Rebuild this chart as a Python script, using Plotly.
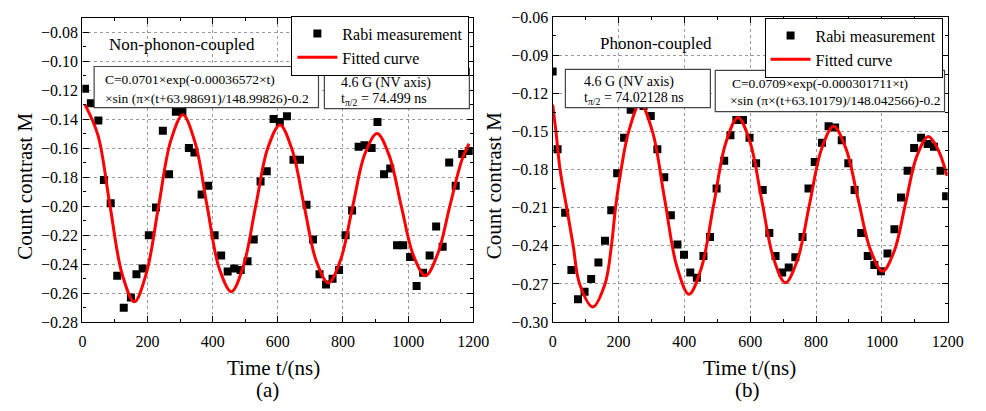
import plotly.graph_objects as go

# ---------------- data: panel (a) non-phonon-coupled ----------------
t_a = [8, 26, 49, 66, 87, 107, 127, 149, 166, 185, 204, 226, 247, 266, 287,
       307, 327, 344, 366, 386, 406, 426, 446, 466, 486, 507, 526, 547, 566, 587,
       606, 628, 648, 668, 688, 708, 728, 748, 768, 788, 808, 828, 848, 866, 888,
       906, 926, 945, 966, 985, 1006, 1026, 1046, 1066, 1086, 1106, 1126, 1146, 1166, 1186]
m_a = [-0.119, -0.129, -0.141, -0.182, -0.198, -0.248, -0.270, -0.263, -0.247, -0.243,
       -0.220, -0.201, -0.148, -0.178, -0.135, -0.135, -0.160, -0.163, -0.192, -0.186,
       -0.220, -0.234, -0.245, -0.243, -0.244, -0.238, -0.223, -0.183, -0.176, -0.140,
       -0.142, -0.138, -0.168, -0.168, -0.199, -0.223, -0.247, -0.254, -0.250, -0.244,
       -0.220, -0.203, -0.159, -0.158, -0.160, -0.142, -0.178, -0.174, -0.227, -0.227,
       -0.235, -0.255, -0.246, -0.234, -0.214, -0.228, -0.170, -0.186, -0.164, -0.162]
fit_t_a = [8, 47.7, 85, 122.2, 159.5, 196.7, 234, 271.2, 308.5, 345.7, 383, 420.2,
           457.5, 494.7, 532, 569.2, 606.5, 643.7, 681, 718.2, 755.5, 792.7, 830,
           867.2, 904.5, 941.7, 979, 1016.2, 1053.5, 1090.7, 1128, 1165.2, 1187]
fit_v_a = [-0.130, -0.151, -0.200, -0.247, -0.266, -0.246, -0.200, -0.155, -0.137,
           -0.156, -0.200, -0.243, -0.259, -0.241, -0.200, -0.160, -0.144, -0.161,
           -0.200, -0.238, -0.253, -0.237, -0.200, -0.164, -0.150, -0.165, -0.200,
           -0.234, -0.248, -0.233, -0.200, -0.168, -0.157]

# ---------------- data: panel (b) phonon-coupled ----------------
t_b = [0, 15, 38, 57, 77, 97, 117, 139, 159, 178, 196, 217, 237, 257, 276,
       298, 318, 339, 359, 379, 399, 418, 438, 458, 478, 498, 521, 540, 558, 578,
       598, 618, 638, 658, 677, 697, 717, 737, 759, 777, 796, 818, 838, 858, 878,
       898, 917, 937, 957, 977, 997, 1017, 1038, 1058, 1078, 1098, 1119, 1139, 1158, 1178, 1195]
m_b = [-0.103, -0.164, -0.214, -0.259, -0.282, -0.276, -0.266, -0.253, -0.236, -0.212,
       -0.183, -0.155, -0.133, -0.127, -0.130, -0.138, -0.164, -0.186, -0.216, -0.239,
       -0.247, -0.261, -0.265, -0.248, -0.233, -0.195, -0.173, -0.153, -0.141, -0.141,
       -0.155, -0.175, -0.196, -0.230, -0.248, -0.261, -0.257, -0.249, -0.233, -0.195,
       -0.174, -0.159, -0.146, -0.147, -0.157, -0.175, -0.196, -0.230, -0.248, -0.255,
       -0.260, -0.246, -0.227, -0.202, -0.181, -0.163, -0.155, -0.160, -0.162, -0.181, -0.201]
fit_t_b = [0, 10, 22.5, 42.6, 62.5, 82, 122, 159, 178.5, 191, 208, 231, 266, 303, 340,
           377, 414, 451, 488.5, 526, 563, 599, 635, 671, 707, 743.5, 780, 816.5, 853,
           890, 927.5, 965, 1002, 1037, 1071.5, 1106, 1141, 1170, 1198]
fit_v_b = [-0.129, -0.150, -0.180, -0.210, -0.240, -0.270, -0.288, -0.270, -0.240,
           -0.210, -0.180, -0.150, -0.128, -0.150, -0.203, -0.256, -0.278, -0.258,
           -0.2085, -0.159, -0.139, -0.158, -0.204, -0.250, -0.269, -0.251, -0.2075,
           -0.164, -0.146, -0.163, -0.203, -0.243, -0.260, -0.2445, -0.207, -0.1695,
           -0.154, -0.164, -0.185]

W, H = 986, 411
FONT = "Liberation Serif"


def px(x):
    return x / W


def py(y):
    return 1 - y / H


fig = go.Figure()
fig.add_trace(go.Scatter(x=t_a, y=m_a, mode="markers", name="Rabi measurement",
                         marker=dict(symbol="square", size=8, color="black"),
                         xaxis="x", yaxis="y", legend="legend"))
fig.add_trace(go.Scatter(x=fit_t_a, y=fit_v_a, mode="lines", name="Fitted curve",
                         line=dict(color="#ff0000", width=3, shape="spline"),
                         xaxis="x", yaxis="y", legend="legend"))
fig.add_trace(go.Scatter(x=t_b, y=m_b, mode="markers", name="Rabi measurement",
                         marker=dict(symbol="square", size=8, color="black"),
                         xaxis="x2", yaxis="y2", legend="legend2"))
fig.add_trace(go.Scatter(x=fit_t_b, y=fit_v_b, mode="lines", name="Fitted curve",
                         line=dict(color="#ff0000", width=3, shape="spline"),
                         xaxis="x2", yaxis="y2", legend="legend2"))

axis_common = dict(
    showline=True, linecolor="black", linewidth=1.3, mirror="allticks",
    ticks="inside", ticklen=6, tickwidth=1, tickcolor="black",
    showgrid=True, gridcolor="#9a9a9a", griddash="dot", gridwidth=1,
    zeroline=False, tickfont=dict(family=FONT, size=16, color="black"),
)

fig.update_layout(
    width=W, height=H, margin=dict(l=0, r=0, t=0, b=0),
    paper_bgcolor="white", plot_bgcolor="white",
    font=dict(family=FONT, color="black"),
    xaxis=dict(domain=[px(80), px(479)], range=[0, 1200], dtick=200, tick0=0, anchor="y",
               ticklabelstandoff=5,
               minor=dict(dtick=100, ticks="inside", ticklen=3, tickcolor="black", showgrid=False),
               **axis_common),
    yaxis=dict(domain=[py(327.7), py(10)], range=[-0.28, -0.07], dtick=0.02, tick0=0,
               tickformat=".2f", anchor="x",
               minor=dict(dtick=0.01, ticks="inside", ticklen=3, tickcolor="black", showgrid=False),
               **axis_common),
    xaxis2=dict(domain=[px(560), px(963.3)], range=[0, 1200], dtick=200, tick0=0, anchor="y2",
                ticklabelstandoff=5,
                minor=dict(dtick=100, ticks="inside", ticklen=3, tickcolor="black", showgrid=False),
                **axis_common),
    yaxis2=dict(domain=[py(327.7), py(9.3)], range=[-0.30, -0.06], dtick=0.03, tick0=0,
                tickformat=".2f", anchor="x2",
                minor=dict(dtick=0.015, ticks="inside", ticklen=3, tickcolor="black", showgrid=False),
                **axis_common),
    legend=dict(x=px(475), xanchor="right", y=py(8), yanchor="top",
                bgcolor="white", bordercolor="black", borderwidth=1,
                font=dict(family=FONT, size=16, color="black"), itemwidth=40,
                tracegroupgap=0),
    legend2=dict(x=px(958), xanchor="right", y=py(10), yanchor="top",
                 bgcolor="white", bordercolor="black", borderwidth=1,
                 font=dict(family=FONT, size=16, color="black"), itemwidth=40,
                 tracegroupgap=0),
    showlegend=True,
)

# boxes around the parameter texts
boxes = [(92, 61, 321, 104), (327, 63, 475, 105), (573, 64, 721, 104), (726, 65, 960, 108)]
for x0, y0, x1, y1 in boxes:
    fig.add_shape(type="rect", xref="paper", yref="paper",
                  x0=px(x0), x1=px(x1), y0=py(y1), y1=py(y0),
                  line=dict(color="#444444", width=1.2), fillcolor="white", layer="above")


def txt(x, y, s, size, xanchor="left", angle=0):
    fig.add_annotation(x=px(x), y=py(y), xref="paper", yref="paper", text=s,
                       showarrow=False, xanchor=xanchor, yanchor="middle",
                       textangle=angle, borderpad=0,
                       font=dict(family=FONT, size=size, color="black"))


# panel (a) texts
txt(106, 38, "Non-phonon-coupled", 17)
txt(102, 75, "C=0.0701×exp(-0.00036572×t)", 13.5)
txt(102, 94, "×sin (π×(t+63.98691)/148.99826)-0.2", 13.5)
txt(343, 78, "4.6 G (NV axis)", 14)
txt(343, 95, "t<sub>π/2</sub> = 74.499 ns", 14)
# panel (b) texts
txt(607, 37, "Phonon-coupled", 17)
txt(591, 77, "4.6 G (NV axis)", 14)
txt(591, 94, "t<sub>π/2</sub> = 74.02128 ns", 14)
txt(742, 79, "C=0.0709×exp(-0.000301711×t)", 13.5)
txt(740, 97, "×sin (π×(t+63.10179)/148.042566)-0.2", 13.5)

# axis titles and panel labels
txt(22, 186, "Count contrast M", 21, xanchor="center", angle=-90)
txt(501, 185, "Count contrast M", 21, xanchor="center", angle=-90)
txt(275, 376, "Time t/(ns)", 21, xanchor="center")
txt(761, 376, "Time t/(ns)", 21, xanchor="center")
txt(269, 399, "(a)", 21, xanchor="center")
txt(759, 399, "(b)", 21, xanchor="center")

fig.write_html("out.html")
